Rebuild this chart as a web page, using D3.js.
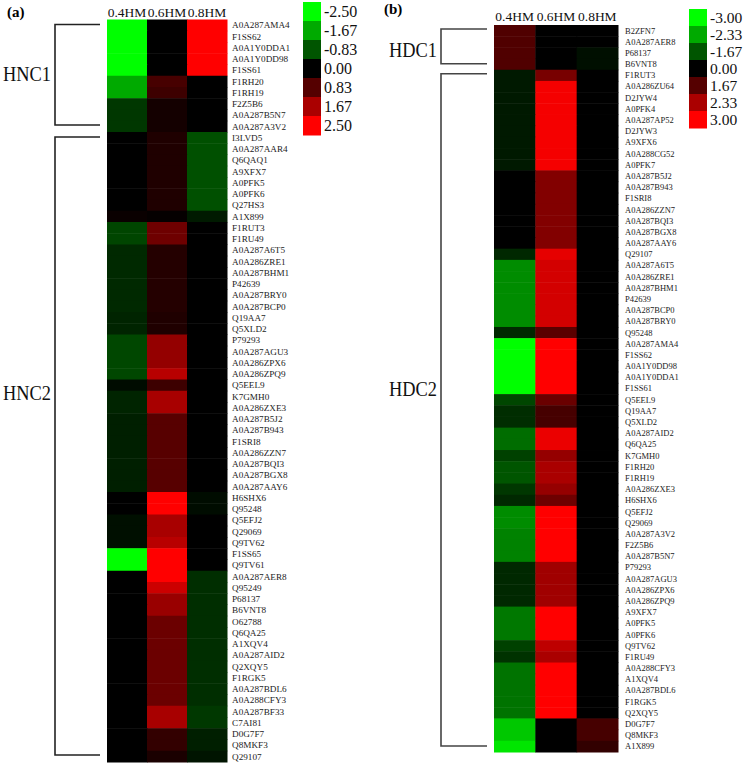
<!DOCTYPE html>
<html>
<head>
<meta charset="utf-8">
<script src="https://cdn.jsdelivr.net/npm/d3@7"></script>
<style>
  body { margin: 0; background: #fff; }
</style>
</head>
<body>
<div id="chart"></div>
<script>
// columns (both panels)
const cols = ["0.4HM", "0.6HM", "0.8HM"];

// panel (a) rows, top to bottom
const rowsA = ["A0A287AMA4","F1SS62","A0A1Y0DDA1","A0A1Y0DD98","F1SS61","F1RH20","F1RH19","F2Z5B6","A0A287B5N7","A0A287A3V2",
  "I3LVD5","A0A287AAR4","Q6QAQ1","A9XFX7","A0PFK5","A0PFK6","Q27HS3","A1X899","F1RUT3","F1RU49",
  "A0A287A6T5","A0A286ZRE1","A0A287BHM1","P42639","A0A287BRY0","A0A287BCP0","Q19AA7","Q5XLD2","P79293","A0A287AGU3",
  "A0A286ZPX6","A0A286ZPQ9","Q5EEL9","K7GMH0","A0A286ZXE3","A0A287B5J2","A0A287B943","F1SRI8","A0A286ZZN7","A0A287BQI3",
  "A0A287BGX8","A0A287AAY6","H6SHX6","Q95248","Q5EFJ2","Q29069","Q9TV62","F1SS65","Q9TV61","A0A287AER8",
  "Q95249","P68137","B6VNT8","O62788","Q6QA25","A1XQV4","A0A287AID2","Q2XQY5","F1RGK5","A0A287BDL6",
  "A0A288CFY3","A0A287BF33","C7AI81","D0G7F7","Q8MKF3","Q29107"];
const a04 = [-2.5,-2.5,-2.5,-2.5,-2.5,-1.67,-1.67,-0.54,-0.54,-0.54,
  0,0,0,0,0,0,0,0.1,-0.68,-0.68,
  -0.4,-0.4,-0.4,-0.4,-0.4,-0.4,-0.35,-0.35,-0.7,-0.7,
  -0.7,-0.7,-0.12,-0.35,-0.35,-0.3,-0.3,-0.3,-0.3,-0.3,
  -0.3,-0.3,0,0,-0.15,-0.15,-0.15,-2.5,-2.5,0,
  0,0,0,0,0,0,0,0,0,0,
  0,0,0,0,0,0];
const a06 = [0,0,0,0,0,0.7,0.6,0.2,0.2,0.2,
  0.3,0.3,0.3,0.3,0.3,0.3,0.3,0.05,1.08,1.08,
  0.35,0.35,0.35,0.35,0.35,0.35,0.3,0.3,1.45,1.45,
  1.45,1.8,0.6,1.65,1.65,0.85,0.85,0.85,0.85,0.85,
  0.85,0.85,2.5,2.5,1.65,1.65,1.8,2.5,2.5,2.5,
  2.0,1.5,1.5,1.05,1.05,1.05,1.05,1.05,1.05,1.05,
  1.05,1.65,1.65,0.5,0.5,0.25];
const a08 = [2.5,2.5,2.5,2.5,2.5,0,0,0,0,0,
  -0.78,-0.78,-0.78,-0.78,-0.78,-0.78,-0.78,-0.25,0,0,
  0,0,0,0,0,0,0,0,0,0,
  0,0,0,0,0,0,0,0,0,0,
  0,0,-0.12,-0.12,0,0,0,0,0,-0.45,
  -0.45,-0.45,-0.45,-0.45,-0.45,-0.45,-0.45,-0.45,-0.45,-0.45,
  -0.45,-0.55,-0.55,-0.3,-0.3,-0.2];
const groupsA = ["HNC1", "HNC2"];
const groupSizesA = [10, 56];
const legendA = [-2.50, -1.67, -0.83, 0.00, 0.83, 1.67, 2.50];

// panel (b) rows
const rowsB = ["B2ZFN7","A0A287AER8","P68137","B6VNT8",
  "F1RUT3","A0A286ZU64","D2JYW4","A0PFK4","A0A287AP52","D2JYW3","A9XFX6","A0A288CG52","A0PFK7","A0A287B5J2",
  "A0A287B943","F1SRI8","A0A286ZZN7","A0A287BQI3","A0A287BGX8","A0A287AAY6","Q29107","A0A287A6T5","A0A286ZRE1","A0A287BHM1",
  "P42639","A0A287BCP0","A0A287BRY0","Q95248","A0A287AMA4","F1SS62","A0A1Y0DD98","A0A1Y0DDA1","F1SS61","Q5EEL9",
  "Q19AA7","Q5XLD2","A0A287AID2","Q6QA25","K7GMH0","F1RH20","F1RH19","A0A286ZXE3","H6SHX6","Q5EFJ2",
  "Q29069","A0A287A3V2","F2Z5B6","A0A287B5N7","P79293","A0A287AGU3","A0A286ZPX6","A0A286ZPQ9","A9XFX7","A0PFK5",
  "A0PFK6","Q9TV62","F1RU49","A0A288CFY3","A1XQV4","A0A287BDL6","F1RGK5","Q2XQY5","D0G7F7","Q8MKF3","A1X899"];
const b04 = [1.57,1.57,1.57,1.57,
  -0.49,-0.49,-0.49,-0.49,-0.49,-0.49,-0.49,-0.49,-0.49,0,
  0,0,0,0,0,0,-0.79,-2.1,-2.1,-2.1,
  -2.1,-2.1,-2.1,-0.79,-3,-3,-3,-3,-3,-1.38,
  -0.88,-0.88,-1.86,-1.86,-1.28,-1.67,-1.67,-1.08,-0.79,-2.1,
  -2.1,-2.02,-2.02,-2.02,-0.79,-0.79,-0.79,-0.79,-1.94,-1.94,
  -1.94,-1.28,-0.98,-1.9,-1.9,-1.9,-1.9,-1.9,-2.57,-2.57,-2.8];
const b06 = [0,0,0,0,
  1.94,2.92,2.92,2.92,2.92,2.92,2.92,2.92,2.92,2.02,
  2.02,2.02,2.02,2.02,2.02,2.02,2.8,2.65,2.65,2.65,
  2.65,2.65,2.65,1.71,3,3,3,3,3,1.83,
  1.38,1.38,2.84,2.84,2.17,2.33,2.33,2.17,1.86,3,
  3,3,3,3,2.25,2.25,2.25,2.25,3,3,
  3,2.49,2.33,3,3,3,3,3,0,0,0];
const b08 = [0,0,-0.29,-0.29,
  0,0,0,0,0,0,0,0,0,0,
  0,0,0,0,0,0,0,0,0,0,
  0,0,0,0,0,0,0,0,0,0,
  0,0,0,0,0,0,0,0,0,0,
  0,0,0,0,0,0,0,0,0,0,
  0,0,0,0,0,0,0,0,1.38,1.38,0.98];
const groupsB = ["HDC1", "HDC2"];
const groupSizesB = [4, 61];
const legendB = [-3.00, -2.33, -1.67, 0.00, 1.67, 2.33, 3.00];

const W = 746, H = 766;
const svg = d3.select("#chart").append("svg")
  .attr("width", W).attr("height", H)
  .attr("font-family", "'Liberation Serif', 'Times New Roman', Times, 'DejaVu Serif', serif");

const colorA = d3.scaleLinear().domain([-2.5, 0, 2.5])
  .range(["#00ff00", "#000000", "#ff0000"]);
const colorB = d3.scaleLinear().domain(legendB)
  .range(["#00ff00", "#00aa00", "#005500", "#000000", "#550000", "#aa0000", "#ff0000"]);

// legend numbers with a plain hyphen, like the figure
const fmt = d => d3.format(".2f")(d).replace("\u2212", "-");

function drawPanel(p) {
  const g = svg.append("g");
  const x = d3.scaleBand().domain(cols).range(p.xr);
  const y = d3.scaleBand().domain(p.rows).range(p.yr);

  const cells = [];
  p.rows.forEach((r, i) => {
    p.vals.forEach((arr, j) => cells.push({ row: r, col: cols[j], v: arr[i] }));
  });

  g.selectAll("rect.cell").data(cells).join("rect")
    .attr("class", "cell")
    .attr("x", d => x(d.col))
    .attr("y", d => y(d.row))
    .attr("width", x.bandwidth() + 0.5)
    .attr("height", y.bandwidth() + 0.5)
    .attr("fill", d => p.color(d.v));

  // column headers
  g.selectAll("text.col").data(cols).join("text")
    .attr("class", "col")
    .attr("x", d => x(d) + x.bandwidth() / 2)
    .attr("y", p.headY)
    .attr("text-anchor", "middle")
    .attr("font-size", 13.5)
    .attr("fill", "#111")
    .text(d => d);

  // row labels
  g.selectAll("text.row").data(p.rows).join("text")
    .attr("class", "row")
    .attr("x", p.xr[1] + p.labelGap)
    .attr("y", d => y(d) + y.bandwidth() / 2)
    .attr("dy", "0.35em")
    .attr("font-size", p.labelSize)
    .attr("fill", "#222")
    .text(d => d);

  // panel letter
  g.append("text")
    .attr("x", p.letterX).attr("y", p.letterY)
    .attr("font-size", 15).attr("font-weight", "bold")
    .text(p.letter);

  // cluster brackets
  let start = 0;
  p.groups.forEach((name, k) => {
    const first = p.rows[start], last = p.rows[start + p.sizes[k] - 1];
    const y0 = y(first) + p.inset[0];
    const y1 = y(last) + y.bandwidth() - p.inset[1];
    g.append("path")
      .attr("d", `M${p.brX1},${y0}H${p.brX0}V${y1}H${p.brX1}`)
      .attr("fill", "none").attr("stroke", p.brColor).attr("stroke-width", 1.6);
    g.append("text")
      .attr("x", p.gLabelX).attr("y", p.gLabelY[k])
      .attr("font-size", 20)
      .attr("textLength", 48).attr("lengthAdjust", "spacingAndGlyphs")
      .attr("fill", "#111")
      .text(name);
    start += p.sizes[k];
  });

  // legend
  const ly = d3.scaleBand().domain(p.legend).range(p.legY);
  const lg = g.append("g");
  lg.selectAll("rect").data(p.legend).join("rect")
    .attr("x", p.legX).attr("y", d => ly(d))
    .attr("width", 18).attr("height", ly.bandwidth() + 0.5)
    .attr("fill", d => p.color(d));
  lg.selectAll("text").data(p.legend).join("text")
    .attr("x", p.legX + 21)
    .attr("y", d => ly(d) + ly.bandwidth() / 2)
    .attr("dy", "0.35em")
    .attr("font-size", p.legSize)
    .attr("fill", "#111")
    .text(fmt);
}

drawPanel({
  rows: rowsA, vals: [a04, a06, a08], color: colorA,
  xr: [107, 227], yr: [19.5, 762], headY: 17,
  labelGap: 5, labelSize: 9.2,
  letter: "(a)", letterX: 7, letterY: 17,
  groups: groupsA, sizes: groupSizesA, inset: [5, 7],
  brX0: 55, brX1: 100, brColor: "#222",
  gLabelX: 3, gLabelY: [81, 400],
  legend: legendA, legX: 303, legY: [2, 135], legSize: 16
});

drawPanel({
  rows: rowsB, vals: [b04, b06, b08], color: colorB,
  xr: [494, 618], yr: [25, 752], headY: 21,
  labelGap: 7, labelSize: 8.5,
  letter: "(b)", letterX: 384, letterY: 14,
  groups: groupsB, sizes: groupSizesB, inset: [4, 6],
  brX0: 441, brX1: 487, brColor: "#444",
  gLabelX: 389, gLabelY: [57, 396],
  legend: legendB, legX: 689, legY: [9, 128], legSize: 15.5
});
</script>
</body>
</html>
